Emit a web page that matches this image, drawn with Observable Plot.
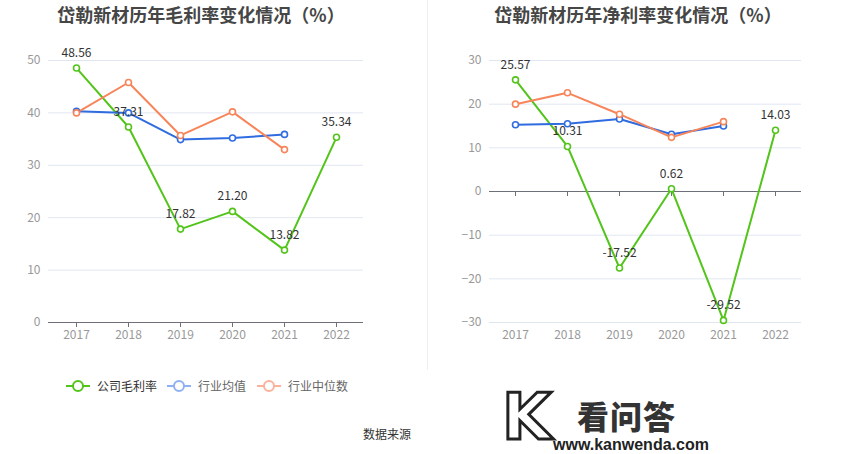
<!DOCTYPE html>
<html><head><meta charset="utf-8">
<script src="https://cdn.jsdelivr.net/npm/d3@7"></script>
<script src="https://cdn.jsdelivr.net/npm/@observablehq/plot@0.6"></script>
<style>
body{margin:0;background:#fff;font-family:"Noto Sans CJK SC","Noto Sans",sans-serif;}
#page{position:relative;width:850px;height:454px;overflow:hidden;background:#fff;}
.title{position:absolute;top:2px;font-size:18px;font-weight:bold;color:#464646;white-space:nowrap;transform:translateX(-50%);line-height:24px;}
.chart{position:absolute;top:0;}
#divider{position:absolute;left:427px;top:0;width:1px;height:370px;background:#eeeeee;}
#legend{position:absolute;top:377px;left:66px;font-size:12px;height:18px;}
.li{position:absolute;top:0;display:flex;align-items:center;white-space:nowrap;line-height:18px;}
.li svg{margin-right:7px;}
#source{position:absolute;left:363px;top:425px;font-size:12px;color:#333;line-height:18px;}
#wm-k{position:absolute;left:502px;top:382px;font-size:64px;font-weight:bold;font-family:"DejaVu Sans";color:#fff;-webkit-text-stroke:3px #222;line-height:70px;}
#wm-cn{position:absolute;left:577px;top:396px;font-size:32px;font-weight:900;color:#333;line-height:38px;letter-spacing:1px;}
#wm-url{position:absolute;left:553px;top:435px;font-size:16px;font-weight:bold;color:#222;line-height:20px;font-family:"Liberation Sans";}
</style></head><body>
<div id="page">
  <div class="title" id="t1" style="left:201px">岱勒新材历年毛利率变化情况（%）</div>
  <div class="title" id="t2" style="left:638px">岱勒新材历年净利率变化情况（%）</div>
  <div id="divider"></div>
  <div class="chart" id="c1" style="left:0"></div>
  <div class="chart" id="c2" style="left:425px"></div>
  <div id="legend"></div>
  <div id="source">数据来源</div>
  <div id="wm-k">K</div>
  <div id="wm-cn">看问答</div>
  <div id="wm-url">www.kanwenda.com</div>
</div>
<script>
const years = ["2017", "2018", "2019", "2020", "2021", "2022"];
const grossCompany = [48.56, 37.31, 17.82, 21.20, 13.82, 35.34];
const grossMean = [40.3, 40.0, 34.9, 35.2, 35.9];
const grossMedian = [40.0, 45.8, 35.7, 40.2, 33.0];
const netCompany = [25.57, 10.31, -17.52, 0.62, -29.52, 14.03];
const netMean = [15.3, 15.5, 16.6, 13.1, 15.0];
const netMedian = [20.0, 22.6, 17.7, 12.4, 16.0];
const grossTicks = [0, 10, 20, 30, 40, 50];
const netTicks = [-30, -20, -10, 0, 10, 20, 30];
const seriesNames = ["公司毛利率", "行业均值", "行业中位数"];
const colors = ["#52c41a", "#2f6ce0", "#f8855a"];
const legendColors = ["#52c41a", "#8fb0f3", "#fbb29a"];

function rows(vals) { return vals.map((v, i) => ({year: years[i], value: v})); }

function makeChart(company, mean, median, ticks, ml, mr) {
  const c = rows(company), m = rows(mean), md = rows(median);
  const font = "Noto Sans CJK SC";
  return Plot.plot({
    width: 425, height: 350,
    marginTop: 60, marginBottom: 28, marginLeft: ml, marginRight: mr,
    style: {fontFamily: font, fontSize: "12px", background: "transparent", overflow: "visible"},
    x: {type: "point", domain: years, padding: 0.5},
    y: {domain: [ticks[0], ticks[ticks.length - 1]]},
    marks: [
      Plot.ruleY(ticks.filter(t => t !== 0), {stroke: "#e0e6f1", strokeWidth: 1}),
      Plot.ruleY([0], {stroke: "#6e7079", strokeWidth: 1}),
      Plot.ruleX(years, {x: d => d, y1: () => 0, y2: () => 0, insetBottom: -5, stroke: "#6e7079"}),
      Plot.line(c, {x: "year", y: "value", stroke: colors[0], strokeWidth: 2}),
      Plot.line(m, {x: "year", y: "value", stroke: colors[1], strokeWidth: 2}),
      Plot.line(md, {x: "year", y: "value", stroke: colors[2], strokeWidth: 2}),
      Plot.dot(c, {x: "year", y: "value", r: 3, fill: "white", stroke: colors[0], strokeWidth: 1.6}),
      Plot.dot(m, {x: "year", y: "value", r: 3, fill: "white", stroke: colors[1], strokeWidth: 1.6}),
      Plot.dot(md, {x: "year", y: "value", r: 3, fill: "white", stroke: colors[2], strokeWidth: 1.6}),
      Plot.text(c, {x: "year", y: "value", text: d => d.value.toFixed(2), dy: -15, fill: "#333", fontSize: 12}),
      Plot.axisY(ticks, {tickSize: 0, tickPadding: 8, fill: "#999", fontSize: 12, label: null}),
      Plot.axisX({tickSize: 0, tickPadding: 8, fill: "#999", fontSize: 12, label: null})
    ]
  });
}

document.getElementById("c1").appendChild(makeChart(grossCompany, grossMean, grossMedian, grossTicks, 48, 62));
document.getElementById("c2").appendChild(makeChart(netCompany, netMean, netMedian, netTicks, 64, 49));

const legendX = [0, 101, 191];
const legendText = ["#333", "#666", "#666"];
const lg = document.getElementById("legend");
seriesNames.forEach((name, i) => {
  const div = document.createElement("div");
  div.className = "li";
  div.style.left = legendX[i] + "px";
  div.innerHTML = `<svg width="24" height="14"><line x1="0" y1="7" x2="24" y2="7" stroke="${legendColors[i]}" stroke-width="2"/><circle cx="12" cy="7" r="5" fill="white" stroke="${legendColors[i]}" stroke-width="2"/></svg><span style="color:${legendText[i]}">${name}</span>`;
  lg.appendChild(div);
});
</script>
</body></html>
